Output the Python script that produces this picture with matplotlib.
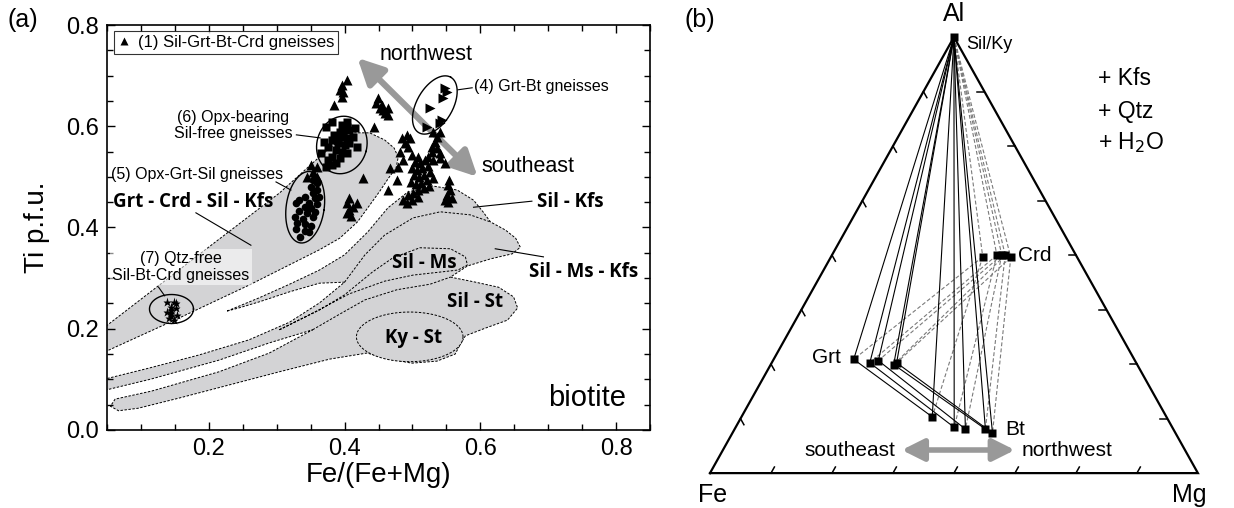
import numpy as np
import matplotlib.pyplot as plt
from matplotlib.patches import Polygon
from matplotlib.lines import Line2D
from matplotlib.ticker import MultipleLocator, FormatStrFormatter

plt.rcParams['font.family'] = ['Liberation Sans', 'DejaVu Sans']

# ---------------- panel (a): biotite Ti vs Fe/(Fe+Mg) ----------------
# (1) Sil-Grt-Bt-Crd gneisses (triangles)
g1_x = [0.403, 0.396, 0.393, 0.397, 0.396, 0.385,
        0.449, 0.447, 0.455, 0.452, 0.456, 0.464, 0.459, 0.464, 0.444,
        0.492, 0.484, 0.496, 0.489, 0.493, 0.481, 0.486, 0.479,
        0.530, 0.541, 0.536, 0.533, 0.529, 0.536, 0.529, 0.541, 0.523, 0.530, 0.541, 0.548,
        0.499, 0.508, 0.504, 0.511, 0.519, 0.499, 0.507, 0.514, 0.523, 0.502, 0.510,
        0.517, 0.526, 0.498, 0.505, 0.513, 0.521, 0.508, 0.517, 0.501, 0.524, 0.530,
        0.467, 0.477, 0.464, 0.493, 0.486, 0.508, 0.499, 0.492,
        0.553, 0.556, 0.551, 0.559, 0.553, 0.548, 0.554,
        0.407, 0.404, 0.412, 0.407, 0.403, 0.410, 0.419, 0.427,
        0.351, 0.360, 0.353, 0.359, 0.345]
g1_y = [0.691, 0.681, 0.672, 0.668, 0.658, 0.642,
        0.656, 0.646, 0.642, 0.636, 0.632, 0.636, 0.626, 0.622, 0.599,
        0.583, 0.577, 0.577, 0.567, 0.559, 0.549, 0.533, 0.520,
        0.589, 0.589, 0.579, 0.569, 0.559, 0.557, 0.549, 0.547, 0.539, 0.533, 0.537, 0.527,
        0.543, 0.539, 0.529, 0.527, 0.533, 0.518, 0.514, 0.518, 0.521, 0.504, 0.500,
        0.504, 0.510, 0.490, 0.486, 0.488, 0.494, 0.474, 0.478, 0.468, 0.482, 0.498,
        0.518, 0.494, 0.474, 0.464, 0.454, 0.460, 0.454, 0.448,
        0.484, 0.474, 0.464, 0.458, 0.450, 0.454, 0.494,
        0.458, 0.448, 0.440, 0.435, 0.429, 0.423, 0.448, 0.498,
        0.523, 0.520, 0.510, 0.500, 0.500]

# (4) Grt-Bt gneisses
g4_x = [0.548, 0.551, 0.545, 0.526, 0.521, 0.544, 0.541]
g4_y = [0.676, 0.668, 0.656, 0.636, 0.599, 0.612, 0.606]

# (5) Opx-Grt-Sil gneisses
g5_x = [0.353, 0.359, 0.351, 0.360, 0.353, 0.363, 0.356, 0.341, 0.348, 0.329,
        0.341, 0.351, 0.333, 0.345, 0.327, 0.339, 0.353, 0.330, 0.342, 0.350,
        0.329, 0.341, 0.335, 0.347, 0.357, 0.333, 0.360]
g5_y = [0.494, 0.488, 0.480, 0.474, 0.468, 0.460, 0.458, 0.460, 0.448, 0.448,
        0.440, 0.439, 0.433, 0.429, 0.421, 0.417, 0.421, 0.409, 0.407, 0.403,
        0.397, 0.393, 0.381, 0.391, 0.431, 0.454, 0.446]

# (6) Opx-bearing Sil-free gneisses
g6_x = [0.381, 0.396, 0.403, 0.407, 0.393, 0.385, 0.397, 0.404, 0.419, 0.381,
        0.390, 0.400, 0.375, 0.388, 0.396, 0.403, 0.382, 0.375, 0.393, 0.381,
        0.373, 0.388, 0.366, 0.370, 0.407, 0.412, 0.415, 0.403, 0.373, 0.397, 0.390]
g6_y = [0.608, 0.602, 0.599, 0.593, 0.589, 0.583, 0.579, 0.577, 0.559, 0.573,
        0.567, 0.563, 0.559, 0.553, 0.549, 0.547, 0.539, 0.533, 0.537, 0.523,
        0.520, 0.527, 0.547, 0.569, 0.567, 0.579, 0.597, 0.608, 0.599, 0.589, 0.577]

# (7) Qtz-free Sil-Bt-Crd gneisses
g7_x = [0.138, 0.148, 0.144, 0.151, 0.138, 0.145, 0.153, 0.141, 0.148, 0.144, 0.151, 0.144]
g7_y = [0.253, 0.253, 0.243, 0.241, 0.233, 0.231, 0.227, 0.221, 0.217, 0.237, 0.251, 0.225]

# stability fields (outlines)
grt_crd_x = [0.03, 0.185, 0.304, 0.366, 0.393, 0.415, 0.437, 0.459, 0.473, 0.479, 0.476,
             0.465, 0.452, 0.437, 0.419, 0.393, 0.363, 0.259, 0.156, 0.03]
grt_crd_y = [0.186, 0.346, 0.468, 0.543, 0.573, 0.587, 0.587, 0.573, 0.557, 0.539, 0.518,
             0.498, 0.472, 0.444, 0.411, 0.379, 0.356, 0.286, 0.221, 0.144]

sil_field_x = [0.227, 0.274, 0.319, 0.363, 0.400, 0.434, 0.464, 0.493, 0.530, 0.566, 0.590,
               0.604, 0.615, 0.637, 0.652, 0.659, 0.647, 0.615, 0.581, 0.556, 0.593, 0.627,
               0.649, 0.655, 0.640, 0.607, 0.578, 0.570, 0.563, 0.536, 0.499, 0.467, 0.433,
               0.378, 0.304, 0.230, 0.156, 0.096, 0.067, 0.055, 0.062, 0.116, 0.215, 0.289,
               0.353, 0.289, 0.215, 0.116, 0.03, 0.03, 0.111, 0.185, 0.259, 0.319, 0.363,
               0.400, 0.363, 0.319, 0.274, 0.244]
sil_field_y = [0.235, 0.261, 0.288, 0.316, 0.346, 0.391, 0.439, 0.470, 0.482, 0.474, 0.454,
               0.431, 0.411, 0.395, 0.379, 0.361, 0.348, 0.338, 0.324, 0.302, 0.292, 0.282,
               0.263, 0.241, 0.217, 0.201, 0.186, 0.168, 0.150, 0.136, 0.132, 0.140, 0.152,
               0.140, 0.115, 0.089, 0.063, 0.043, 0.038, 0.047, 0.061, 0.077, 0.115, 0.152,
               0.198, 0.172, 0.138, 0.101, 0.073, 0.095, 0.122, 0.148, 0.178, 0.213, 0.251,
               0.292, 0.290, 0.273, 0.253, 0.241]

kfs_ms_x = [0.400, 0.430, 0.459, 0.501, 0.541, 0.585, 0.615]
kfs_ms_y = [0.292, 0.346, 0.385, 0.419, 0.431, 0.425, 0.411]

sil_ms_x = [0.304, 0.363, 0.400, 0.441, 0.471, 0.511, 0.556, 0.578, 0.581, 0.567, 0.541,
            0.501, 0.459, 0.407, 0.356, 0.304]
sil_ms_y = [0.198, 0.237, 0.267, 0.312, 0.340, 0.360, 0.358, 0.342, 0.326, 0.316, 0.312,
            0.306, 0.294, 0.269, 0.233, 0.198]

sil_st_x = [0.353, 0.393, 0.430, 0.477, 0.526, 0.556]
sil_st_y = [0.198, 0.229, 0.257, 0.277, 0.288, 0.302]

# ellipses round the sample groups: centre x, centre y, width px, height px, angle
ring_x = [0.396, 0.342, 0.533, 0.145]
ring_y = [0.563, 0.440, 0.642, 0.239]
ring_w = [50, 38, 64, 44]
ring_h = [58, 72, 36, 29]
ring_a = [-15, -8, 60, 0]

# ---------------- panel (b): AFM projection ----------------
# Al and Mg fractions of each phase (one entry per sample)
grt_al = [0.261, 0.253, 0.258, 0.249, 0.253]
grt_mg = [0.164, 0.201, 0.216, 0.252, 0.256]
bt_al = [0.129, 0.105, 0.101, 0.101, 0.092]
bt_mg = [0.391, 0.448, 0.473, 0.514, 0.533]
crd_al = [0.496, 0.500, 0.500, 0.500, 0.495]
crd_mg = [0.311, 0.338, 0.348, 0.355, 0.369]
sil_al, sil_mg = 1.0, 0.0

GREY = '#d3d3d5'
DASH = (0, (2.5, 1.6))


def tern(al, mg):
    al = np.asarray(al, dtype=float)
    mg = np.asarray(mg, dtype=float)
    return mg + al / 2, al


def ring(ax, cx, cy, w, h, ang):
    # ellipse sized in pixels so it keeps its shape on the unequal axes
    fig = ax.figure
    W, H = fig.get_size_inches() * fig.dpi
    bb = ax.get_position()
    x0, x1 = ax.get_xlim()
    y0, y1 = ax.get_ylim()
    sx = bb.width * W / (x1 - x0)
    sy = bb.height * H / (y1 - y0)
    t = np.linspace(0, 2 * np.pi, 200)
    a = np.radians(ang)
    u, v = w / 2 * np.cos(t), h / 2 * np.sin(t)
    ax.plot(cx + (u * np.cos(a) - v * np.sin(a)) / sx,
            cy + (u * np.sin(a) + v * np.cos(a)) / sy, color='k', lw=1.0, zorder=3)


fig = plt.figure(figsize=(12.34, 5.08), dpi=100)
ax = fig.add_axes([107 / 1234, 1 - 430 / 508, 543 / 1234, 405 / 508])
ax.set_xlim(0.05, 0.85)
ax.set_ylim(0.0, 0.8)

# fields
ax.add_patch(Polygon(np.column_stack([grt_crd_x, grt_crd_y]), closed=True, fc=GREY,
                     ec='k', lw=0.7, ls=DASH, zorder=1))
ax.add_patch(Polygon(np.column_stack([sil_field_x, sil_field_y]), closed=True, fc=GREY,
                     ec='k', lw=0.7, ls=DASH, zorder=1))
ax.plot(kfs_ms_x, kfs_ms_y, color='k', lw=0.7, ls=DASH, zorder=1.5)
ax.plot(sil_ms_x, sil_ms_y, color='k', lw=0.7, ls=DASH, zorder=1.5)
ax.plot(sil_st_x, sil_st_y, color='k', lw=0.7, ls=DASH, zorder=1.5)
# Ky-St field
t = np.linspace(0, 2 * np.pi, 200)
ax.fill(0.496 + 0.0785 * np.cos(t), 0.184 + 0.049 * np.sin(t), fc=GREY, ec='k',
        lw=0.7, ls=DASH, zorder=1.6)

# samples
ax.plot(g1_x, g1_y, ls='none', marker='^', ms=6.5, color='k', mec='none', zorder=4)
ax.plot(g4_x, g4_y, ls='none', marker='>', ms=6.5, color='k', mec='none', zorder=4)
ax.plot(g5_x, g5_y, ls='none', marker='o', ms=5.5, color='k', mec='none', zorder=4)
ax.plot(g6_x, g6_y, ls='none', marker='s', ms=5.5, color='k', mec='none', zorder=4)
ax.plot(g7_x, g7_y, ls='none', marker='*', ms=6.5, color='k', mec='none', zorder=4)

for i in range(len(ring_x)):
    ring(ax, ring_x[i], ring_y[i], ring_w[i], ring_h[i], ring_a[i])

# trend arrow
ax.annotate('', xy=(0.419, 0.735), xytext=(0.596, 0.500),
            arrowprops=dict(arrowstyle='<|-|>,head_length=1.1,head_width=0.55',
                            color='#999999', lw=4.5, mutation_scale=14,
                            shrinkA=0, shrinkB=0), zorder=2)
ax.text(0.520, 0.741, 'northwest', fontsize=15.5, ha='center', va='center')
ax.text(0.670, 0.520, 'southeast', fontsize=15.5, ha='center', va='center')

# annotations
kw = dict(fontsize=11.5, zorder=5)
ax.text(0.236, 0.602, '(6) Opx-bearing\nSil-free gneisses', ha='center', va='center',
        linespacing=1.1, **kw)
ax.plot([0.329, 0.364], [0.583, 0.577], color='k', lw=0.8)
ax.text(0.056, 0.504, '(5) Opx-Grt-Sil gneisses', ha='left', va='center', **kw)
ax.plot([0.299, 0.321], [0.490, 0.474], color='k', lw=0.8)
ax.text(0.159, 0.322, '(7) Qtz-free\nSil-Bt-Crd gneisses', ha='center', va='center',
        linespacing=1.1, bbox=dict(boxstyle='square,pad=0.15', fc='white', ec='none',
                                   alpha=0.55), **kw)
ax.plot([0.126, 0.135], [0.282, 0.265], color='k', lw=0.8)
ax.text(0.590, 0.678, '(4) Grt-Bt gneisses', ha='left', va='center', **kw)
ax.plot([0.567, 0.588], [0.672, 0.676], color='k', lw=0.8)

bold = dict(family=['Open Sans', 'DejaVu Sans'], weight='bold', fontsize=13.5, zorder=5)
ax.text(0.059, 0.450, 'Grt - Crd - Sil - Kfs', ha='left', va='center', **bold)
ax.plot([0.181, 0.262], [0.429, 0.365], color='k', lw=0.8)
ax.text(0.684, 0.450, 'Sil - Kfs', ha='left', va='center', **bold)
ax.plot([0.590, 0.676], [0.440, 0.452], color='k', lw=0.8)
ax.text(0.671, 0.312, 'Sil - Ms - Kfs', ha='left', va='center', **bold)
ax.plot([0.622, 0.693], [0.358, 0.342], color='k', lw=0.8)
ax.text(0.517, 0.330, 'Sil - Ms', ha='center', va='center', **bold)
ax.text(0.593, 0.253, 'Sil - St', ha='center', va='center', **bold)
ax.text(0.501, 0.182, 'Ky - St', ha='center', va='center', **bold)
ax.text(0.815, 0.063, 'biotite', fontsize=21, ha='right', va='center')

h1 = Line2D([], [], ls='none', marker='^', ms=6, color='k', mec='none',
            label='(1) Sil-Grt-Bt-Crd gneisses')
leg = ax.legend(handles=[h1], loc='upper left', bbox_to_anchor=(0.012, 0.985),
                fontsize=12, frameon=True, fancybox=False, edgecolor='k',
                handlelength=0.8, handletextpad=0.4, borderpad=0.25, borderaxespad=0)
leg.get_frame().set_linewidth(0.8)

ax.xaxis.set_major_locator(MultipleLocator(0.2))
ax.xaxis.set_minor_locator(MultipleLocator(0.05))
ax.yaxis.set_major_locator(MultipleLocator(0.2))
ax.yaxis.set_minor_locator(MultipleLocator(0.05))
ax.xaxis.set_major_formatter(FormatStrFormatter('%.1f'))
ax.yaxis.set_major_formatter(FormatStrFormatter('%.1f'))
ax.tick_params(which='both', direction='in', top=True, right=True, labelsize=17, width=1.0)
ax.tick_params(which='major', length=5.5, pad=6)
ax.tick_params(which='minor', length=4)
for s in ax.spines.values():
    s.set_linewidth(1.2)
ax.set_xlabel('Fe/(Fe+Mg)', fontsize=20)
ax.set_ylabel('Ti p.f.u.', fontsize=20)
ax.xaxis.set_label_coords(0.5, -0.08)
ax.yaxis.set_label_coords(-0.105, 0.5)
fig.text(23 / 1234, 1 - 20 / 508, '(a)', fontsize=18, ha='center', va='center')

# ---------------- panel (b) ----------------
bx = fig.add_axes([690 / 1234, 0, 544 / 1234, 1])
bx.set_xlim(-0.041, 1.074)
bx.set_ylim(-0.080, 1.085)
bx.axis('off')

bx.plot([0, 1, 0.5, 0], [0, 0, 1, 0], color='k', lw=1.6, solid_joinstyle='miter', zorder=2)
for k in range(1, 8):
    f = k / 8
    bx.plot([f, f + 0.007], [0, 0.014], color='k', lw=1.1)
    bx.plot([f / 2, f / 2 + 0.007], [f, f - 0.014], color='k', lw=1.1)
    bx.plot([1 - f / 2, 1 - f / 2 - 0.0145], [f, f], color='k', lw=1.1)

sx, sy = tern(sil_al, sil_mg)
gx, gy = tern(grt_al, grt_mg)
btx, bty = tern(bt_al, bt_mg)
cx, cy = tern(crd_al, crd_mg)
dash_kw = dict(color='#7a7a7a', lw=0.8, ls=(0, (3.5, 2)), zorder=1)
solid_kw = dict(color='k', lw=0.8, zorder=1.5)
for i in range(len(grt_al)):
    bx.plot([sx, cx[i]], [sy, cy[i]], **dash_kw)
    bx.plot([cx[i], gx[i]], [cy[i], gy[i]], **dash_kw)
    bx.plot([cx[i], btx[i]], [cy[i], bty[i]], **dash_kw)
    bx.plot([sx, gx[i]], [sy, gy[i]], **solid_kw)
    bx.plot([sx, btx[i]], [sy, bty[i]], **solid_kw)
    bx.plot([gx[i], btx[i]], [gy[i], bty[i]], **solid_kw)
mk = dict(ls='none', marker='s', ms=6, color='k', mec='none', zorder=4)
bx.plot([sx], [sy], **mk)
bx.plot(gx, gy, **mk)
bx.plot(btx, bty, **mk)
bx.plot(cx, cy, **mk)

bx.text(0.5, 1.053, 'Al', fontsize=18, ha='center', va='center')
bx.text(0.006, -0.050, 'Fe', fontsize=18, ha='center', va='center')
bx.text(0.982, -0.050, 'Mg', fontsize=18, ha='center', va='center')
bx.text(0.525, 0.984, 'Sil/Ky', fontsize=13, ha='left', va='center')
bx.text(0.631, 0.500, 'Crd', fontsize=15, ha='left', va='center')
bx.text(0.268, 0.264, 'Grt', fontsize=15, ha='right', va='center')
bx.text(0.605, 0.099, 'Bt', fontsize=15, ha='left', va='center')
bx.text(0.795, 0.904, '+ Kfs', fontsize=16.5, ha='left', va='center')
bx.text(0.795, 0.830, '+ Qtz', fontsize=16.5, ha='left', va='center')
bx.text(0.795, 0.759, '+ H$_2$O', fontsize=16.5, ha='left', va='center')
bx.text(-0.020, 1.039, '(b)', fontsize=18, ha='center', va='center')

bx.annotate('', xy=(0.393, 0.053), xytext=(0.625, 0.053),
            arrowprops=dict(arrowstyle='<|-|>,head_length=1.1,head_width=0.55',
                            color='#999999', lw=4, mutation_scale=12,
                            shrinkA=0, shrinkB=0))
bx.text(0.379, 0.053, 'southeast', fontsize=15, ha='right', va='center')
bx.text(0.639, 0.053, 'northwest', fontsize=15, ha='left', va='center')

fig.savefig('out.png', dpi=100)
